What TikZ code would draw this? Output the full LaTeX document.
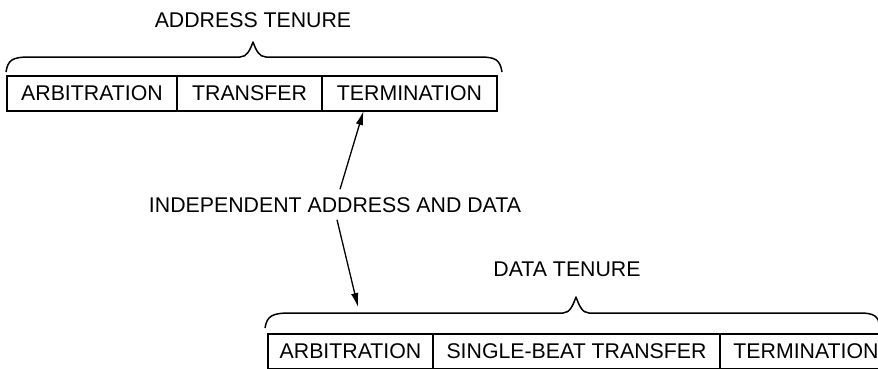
\documentclass[tikz,border=0pt]{standalone}
\usepackage{fontspec}
\setmainfont{Liberation Sans}
\usetikzlibrary{arrows.meta, positioning}

\begin{document}
\begin{tikzpicture}[
    x=1pt, y=-1pt,
    cell/.style={rectangle, draw, line width=1.3pt, outer sep=0pt, inner sep=0pt,
      minimum height=35pt, font=\fontsize{21.3}{25}\selectfont},
    title/.style={font=\fontsize{21.3}{25}\selectfont, inner sep=2pt},
    tbrace/.style={line width=1.5pt, line join=round},
    arr/.style={-{Latex[length=14pt, width=7.5pt]}, line width=1.3pt}
  ]
    \useasboundingbox (0,0) rectangle (878,368);
    \clip (0,0) rectangle (878,368);

    % address tenure
    \node[cell, minimum width=170pt, anchor=north west] (aarb) at (7,76) {ARBITRATION};
    \node[cell, minimum width=145pt, right=0pt of aarb] (atrans) {TRANSFER};
    \node[cell, minimum width=175pt, right=0pt of atrans] (aterm) {TERMINATION};
    \node[title] (atitle) at (253,20) {ADDRESS TENURE};
    \draw[tbrace] (6,72) .. controls (8,60) and (12,57) .. (30,57) -- (240,57)
      .. controls (247,57) and (250,50) .. (253,42)
      .. controls (256,50) and (259,57) .. (266,57) -- (480,57)
      .. controls (496,57) and (500,60) .. (502,72);

    % data tenure
    \node[cell, minimum width=165pt, anchor=north west] (darb) at (268,334) {ARBITRATION};
    \node[cell, minimum width=287pt, right=0pt of darb] (dsingle) {SINGLE-BEAT TRANSFER};
    \node[cell, minimum width=172pt, right=0pt of dsingle] (dterm) {TERMINATION};
    \node[title] (dtitle) at (567,269) {DATA TENURE};
    \draw[tbrace] (265,328) .. controls (267,316) and (272,313) .. (290,313) -- (563,313)
      .. controls (570,313) and (573,305) .. (576,297)
      .. controls (579,305) and (582,313) .. (589,313) -- (860,313)
      .. controls (874,313) and (878,316) .. (880,326);
    \coordinate (dtip) at (358,307);

    % independent tenures
    \node[title] (indep) at (335,205) {INDEPENDENT ADDRESS AND DATA};
    \draw[arr] ([xshift=5pt, yshift=6pt]indep.north) -- ([xshift=-46pt]aterm.south);
    \draw[arr] ([xshift=2pt, yshift=-5pt]indep.south) -- (dtip);
  \end{tikzpicture}
\end{document}
